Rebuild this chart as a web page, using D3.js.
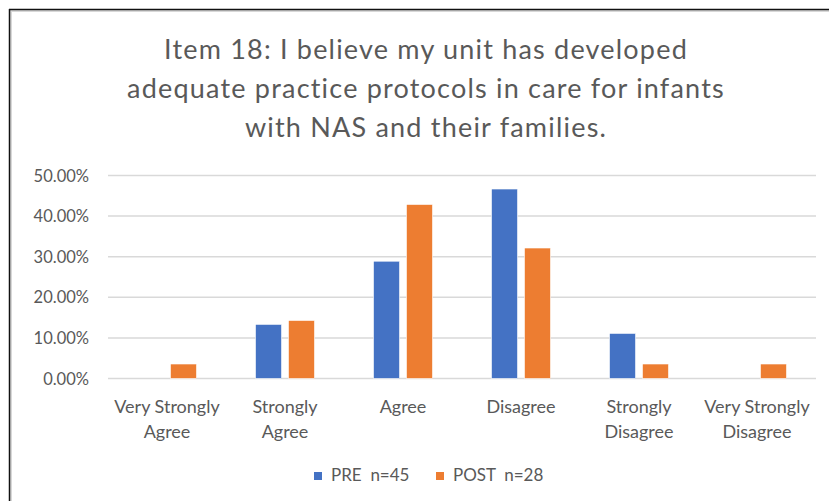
<!DOCTYPE html>
<html>
<head>
<meta charset="utf-8">
<script src="https://cdn.jsdelivr.net/npm/d3@7"></script>
<style>
  body { margin: 0; background: #fff; }
  svg text { font-family: Lato, "Open Sans", sans-serif; fill: #595959; }
</style>
</head>
<body>
<div class="chart"></div>
<script>
const categories = ['Very Strongly|Agree', 'Strongly|Agree', 'Agree', 'Disagree', 'Strongly|Disagree', 'Very Strongly|Disagree'];
const seriesNames = ['PRE  n=45', 'POST  n=28'];
const preValues = [0, 0.1333, 0.2889, 0.4667, 0.1111, 0];
const postValues = [0.0357, 0.1429, 0.4286, 0.3214, 0.0357, 0.0357];
const yTicks = [0, 0.1, 0.2, 0.3, 0.4, 0.5];
const titleLines = ['Item 18: I believe my unit has developed', 'adequate practice protocols in care for infants', 'with NAS and their families.'];

const colors = ['#4472C4', '#ED7D31'];
const W = 829, H = 501;

const data = categories.map((c, i) => ({cat: c, vals: [preValues[i], postValues[i]]}));

const svg = d3.select('.chart').append('svg')
    .attr('width', W)
    .attr('height', H);

// frame (top + left edges only visible)
svg.append('line').attr('x1', 9).attr('x2', W).attr('y1', 11).attr('y2', 11)
    .attr('stroke', '#d8d8d8').attr('stroke-width', 2);
svg.append('line').attr('x1', 11).attr('x2', 11).attr('y1', 9).attr('y2', H)
    .attr('stroke', '#d8d8d8').attr('stroke-width', 2);
svg.append('line').attr('x1', 9).attr('x2', W).attr('y1', 9.5).attr('y2', 9.5)
    .attr('stroke', '#111').attr('stroke-width', 1.5);
svg.append('line').attr('x1', 9.5).attr('x2', 9.5).attr('y1', 9).attr('y2', H)
    .attr('stroke', '#111').attr('stroke-width', 1.5);

// title
svg.append('g').selectAll('text')
    .data(titleLines)
    .enter()
    .append('text')
    .attr('x', 426)
    .attr('y', (d, i) => 59 + i * 39)
    .attr('text-anchor', 'middle')
    .style('font-size', '27px')
    .style('letter-spacing', '1.2px')
    .text(d => d);

const margin = {top: 175.5, left: 108, right: 13, bottom: 122.5};
const width = W - margin.left - margin.right;
const height = H - margin.top - margin.bottom;

const x0 = d3.scaleBand()
    .domain(categories)
    .range([0, width])
    .paddingInner(0.5)
    .paddingOuter(0.25);

const x1 = d3.scaleBand()
    .domain([0, 1])
    .range([0, x0.bandwidth()])
    .paddingInner(0.21);

const y = d3.scaleLinear()
    .domain([0, 0.5])
    .range([height, 0]);

const g = svg.append('g')
    .attr('transform', `translate(${margin.left},${margin.top})`);

// gridlines
g.selectAll('.grid')
    .data(yTicks)
    .enter()
    .append('line')
    .attr('x1', 0)
    .attr('x2', width)
    .attr('y1', d => y(d))
    .attr('y2', d => y(d))
    .attr('stroke', '#d9d9d9')
    .attr('stroke-width', 1.5);

// y labels
g.selectAll('.ylab')
    .data(yTicks)
    .enter()
    .append('text')
    .attr('x', -19)
    .attr('y', d => y(d) + 6)
    .attr('text-anchor', 'end')
    .style('font-size', '16.5px')
    .text(d => d3.format('.2%')(d));

// bars
const groups = g.selectAll('.grp')
    .data(data)
    .enter()
    .append('g')
    .attr('transform', d => `translate(${x0(d.cat)},0)`);

groups.selectAll('rect')
    .data(d => d.vals.map((v, i) => ({v, i})).filter(e => e.v > 0))
    .enter()
    .append('rect')
    .attr('x', d => x1(d.i))
    .attr('width', x1.bandwidth())
    .attr('y', d => y(d.v))
    .attr('height', d => y(0) - y(d.v))
    .attr('fill', d => colors[d.i])
    .attr('stroke', '#fff')
    .attr('stroke-width', 0.6);

// category labels
const labels = g.selectAll('.xlab')
    .data(categories)
    .enter()
    .append('text')
    .attr('text-anchor', 'middle')
    .style('font-size', '18px')
    .attr('transform', d => `translate(${x0(d) + x0.bandwidth() / 2},${height + 34})`);

labels.selectAll('tspan')
    .data(d => d.split('|'))
    .enter()
    .append('tspan')
    .attr('x', 0)
    .attr('y', (d, i) => i * 25)
    .text(d => d);

// legend
const legendX = [314, 436];
const legend = svg.append('g');
legend.selectAll('rect')
    .data(seriesNames)
    .enter()
    .append('rect')
    .attr('x', (d, i) => legendX[i])
    .attr('y', 472)
    .attr('width', 8)
    .attr('height', 8)
    .attr('fill', (d, i) => colors[i]);

legend.selectAll('text')
    .data(seriesNames)
    .enter()
    .append('text')
    .attr('x', (d, i) => legendX[i] + 17)
    .attr('y', 481)
    .style('font-size', '17px')
    .style('white-space', 'pre')
    .attr('xml:space', 'preserve')
    .text(d => d);
</script>
</body>
</html>
